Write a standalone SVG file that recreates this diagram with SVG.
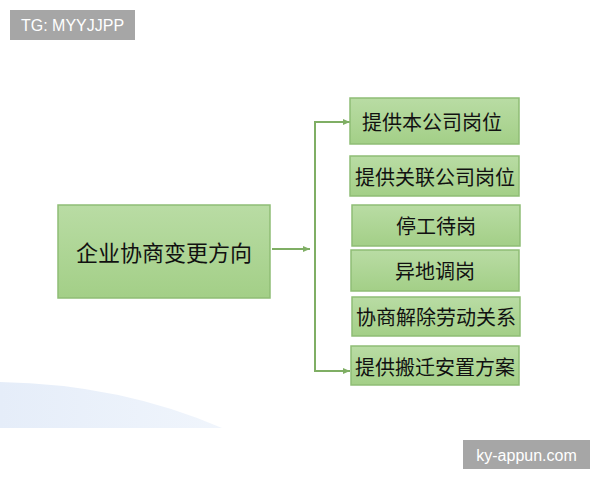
<svg xmlns="http://www.w3.org/2000/svg" width="600" height="480" viewBox="0 0 600 480">
<defs>
<linearGradient id="g" x1="0" y1="0" x2="0" y2="1">
<stop offset="0" stop-color="#b9dca4"/>
<stop offset="1" stop-color="#a3cf87"/>
</linearGradient>
<linearGradient id="b" x1="0" y1="0" x2="1" y2="0">
<stop offset="0" stop-color="#e5edf9"/>
<stop offset="1" stop-color="#f0f5fc"/>
</linearGradient>
<marker id="ah" markerWidth="8" markerHeight="8" refX="7" refY="4" orient="auto" markerUnits="userSpaceOnUse">
<path d="M0,1 L7,4 L0,7 Z" fill="#7fae64"/>
</marker>
</defs>
<style>
.box{fill:url(#g);stroke:#8fbd75;stroke-width:1.5}
.t{font-family:"Noto Sans CJK SC",sans-serif;fill:#111111;text-anchor:middle;dominant-baseline:central}
.ln{stroke:#7fae64;stroke-width:2;fill:none}
.wm{fill:#a6a6a6}
.wt{font-family:"Liberation Sans",Arial,sans-serif;font-size:16px;fill:#ffffff;dominant-baseline:central;text-anchor:middle}
</style>
<rect width="600" height="480" fill="#ffffff"/>
<path d="M0,382 Q120,384 222,428 L0,428 Z" fill="url(#b)"/>
<g id="watermark-tg"><rect class="wm" x="10" y="10" width="125" height="30"/><text class="wt" x="72.5" y="25.5">TG: MYYJJPP</text></g>
<g id="watermark-site"><rect class="wm" x="463" y="440" width="127" height="29"/><text class="wt" x="526.5" y="455">ky-appun.com</text></g>
<g id="connectors">
<line class="ln" x1="272" y1="249" x2="310" y2="249" marker-end="url(#ah)"/>
<line class="ln" x1="315" y1="121" x2="315" y2="372"/>
<line class="ln" x1="314" y1="122" x2="350" y2="122" marker-end="url(#ah)"/>
<line class="ln" x1="314" y1="371" x2="350" y2="371" marker-end="url(#ah)"/>
</g>
<g id="main"><rect class="box" x="58" y="205" width="212" height="93"/><text class="t" x="164" y="251" font-size="22">企业协商变更方向</text></g>
<g id="n1"><rect class="box" x="350" y="98" width="169" height="46"/><text class="t" x="432" y="121" font-size="20">提供本公司岗位</text></g>
<g id="n2"><rect class="box" x="350" y="156" width="169" height="40"/><text class="t" x="435" y="176" font-size="20">提供关联公司岗位</text></g>
<g id="n3"><rect class="box" x="352" y="205" width="168" height="41"/><text class="t" x="436" y="225.5" font-size="20">停工待岗</text></g>
<g id="n4"><rect class="box" x="351" y="250" width="168" height="41"/><text class="t" x="435" y="270.5" font-size="20">异地调岗</text></g>
<g id="n5"><rect class="box" x="352" y="297" width="168" height="39"/><text class="t" x="436" y="316.5" font-size="20">协商解除劳动关系</text></g>
<g id="n6"><rect class="box" x="351" y="346" width="168" height="39"/><text class="t" x="435" y="366" font-size="20">提供搬迁安置方案</text></g>
</svg>
